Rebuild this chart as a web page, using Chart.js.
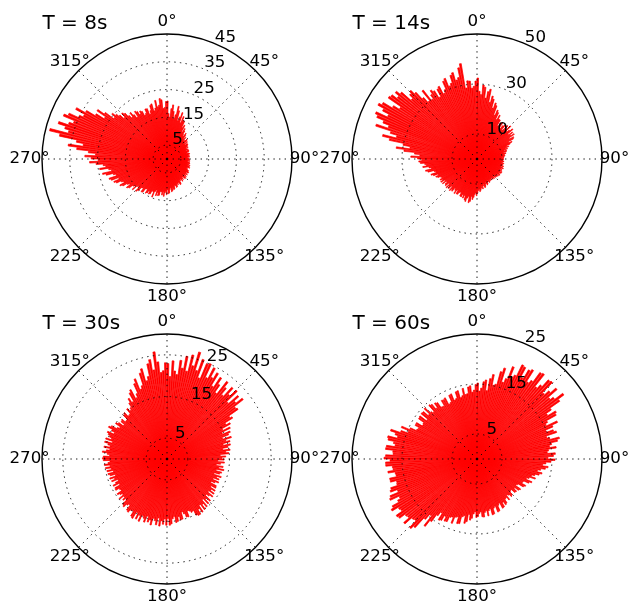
<!DOCTYPE html>
<html>
<head>
<meta charset="utf-8">
<title>Polar spokes</title>
<script src="https://cdn.jsdelivr.net/npm/chart.js@4.4.1/dist/chart.umd.min.js"></script>
<style>
  html, body { margin: 0; padding: 0; background: #fff; }
  #wrap { position: relative; width: 630px; height: 601px; }
  #wrap canvas { position: absolute; left: 0; top: 0; }
</style>
</head>
<body>
<div id="wrap">
  <canvas id="p0" width="630" height="601"></canvas>
  <canvas id="p1" width="630" height="601"></canvas>
  <canvas id="p2" width="630" height="601"></canvas>
  <canvas id="p3" width="630" height="601"></canvas>
</div>
<script>
// spoke lengths, one value every 1.5 degrees, clockwise from north
const lengthsT8 = [
  20.9,16.4,15.1,18.2,19.6,17.3,14.8,16.2,19.4,17.9,14.3,15.8,17.6,13.9,16.4,15.1,14.9,12.6,13.7,11.2,
  12.7,11.9,10.6,10.1,11.5,10.8,9.4,10.3,8.9,9.3,10.2,9.8,8.4,9.6,8.2,9.1,9.2,8.7,8.8,7.9,
  8.7,7.6,8.1,8.4,7.3,8.5,7.9,8.3,7.5,7.2,8.2,8.4,7.8,7.4,8.1,7.7,8.2,7.1,7.6,7.9,
  8.1,7.9,7.4,8.3,7.2,7.7,8.2,8.4,7.5,8.0,8.6,7.6,8.5,8.2,8.8,7.7,8.1,7.8,8.3,8.9,
  8.6,9.2,9.1,8.3,8.7,9.3,8.4,8.9,9.4,8.2,9.5,9.6,8.8,8.5,9.4,9.0,9.8,8.6,9.2,8.8,
  10.2,10.4,9.3,9.6,10.1,9.5,10.6,10.8,10.0,9.9,11.1,11.3,10.5,11.6,11.9,10.4,11.0,12.3,12.5,11.1,
  12.9,11.6,12.2,13.5,11.8,13.1,12.0,11.9,13.4,13.6,12.5,13.8,11.8,12.4,14.7,12.8,12.6,13.9,14.2,13.1,
  14.1,14.5,12.9,13.2,14.8,15.0,13.6,13.8,15.4,16.1,14.2,14.5,16.6,15.1,15.6,17.2,17.8,16.2,16.9,18.6,
  19.4,17.6,18.3,20.1,20.8,18.7,21.4,22.0,19.2,20.1,22.6,23.8,20.4,21.3,24.5,22.2,23.1,25.6,27.9,24.8,
  27.3,29.6,25.8,28.4,32.7,35.9,30.6,33.2,39.6,43.5,36.8,38.4,41.2,37.6,36.1,40.4,38.9,35.2,33.8,37.4,
  33.8,30.2,26.9,30.6,27.8,24.1,25.6,24.3,23.2,21.4,23.1,22.4,20.8,19.6,21.3,19.9,18.4,20.7,20.2,18.8,
  19.8,19.4,17.6,18.1,19.6,19.5,17.2,18.4,20.2,20.6,17.9,18.8,21.5,19.1,19.6,21.9,21.4,18.2,18.6,20.7
];
const lengthsT14 = [
  32.4,27.1,25.8,29.7,28.9,24.6,27.3,28.4,23.2,25.9,24.8,21.3,23.6,22.7,18.9,21.2,20.4,17.6,19.7,18.2,
  18.1,15.6,17.4,17.8,15.2,16.9,17.6,15.4,18.1,16.7,18.8,16.2,17.3,18.6,15.9,17.8,16.4,17.9,15.3,17.1,
  16.7,14.3,15.6,14.6,12.8,13.7,12.1,12.9,11.3,12.3,12.1,10.6,11.8,11.2,10.4,11.3,10.9,9.8,10.8,10.5,
  10.7,9.6,10.4,10.8,9.7,10.3,10.9,9.9,10.6,10.1,11.0,9.8,10.7,11.2,10.2,10.8,9.9,11.1,10.4,11.3,
  11.1,10.2,10.8,11.2,10.0,10.9,10.3,10.7,9.6,10.5,10.2,9.5,10.4,9.8,10.3,9.3,10.1,9.7,10.2,9.6,
  10.4,10.6,9.5,10.1,10.9,11.2,9.8,10.6,11.5,11.9,10.4,11.1,12.2,11.0,11.8,12.6,13.1,12.0,12.6,13.7,
  14.7,13.6,14.2,15.4,16.3,15.1,17.2,17.8,15.3,16.1,17.6,17.1,15.4,16.6,15.3,16.4,16.3,14.8,15.1,16.1,
  16.2,14.7,16.5,15.3,14.6,16.3,15.8,16.7,14.9,16.4,15.6,16.8,14.8,16.5,16.2,15.1,16.9,15.4,17.1,16.0,
  16.9,15.8,16.2,17.3,17.9,16.7,18.6,19.4,17.2,17.8,20.3,21.1,18.6,19.5,21.9,20.4,21.0,22.7,23.3,22.1,
  23.8,26.5,22.9,25.1,29.4,32.6,27.2,30.1,35.9,38.9,33.4,36.2,42.6,37.7,40.3,43.4,44.5,39.6,42.4,45.1,
  43.8,39.6,36.9,43.1,42.6,40.2,42.1,40.3,35.4,37.2,38.1,36.2,32.6,30.1,35.0,29.8,31.6,33.1,32.2,28.9,
  32.1,32.8,29.4,30.6,33.9,34.7,31.2,32.0,35.1,35.9,32.6,33.4,37.2,38.7,28.7,31.5,31.3,28.4,29.1,31.2
];
const lengthsT30 = [
  22.9,19.8,23.6,21.2,20.4,23.9,22.1,25.1,21.6,25.7,23.2,26.8,22.4,25.4,20.9,24.8,25.1,21.7,24.6,22.3,
  23.9,20.6,23.4,21.8,19.7,23.5,22.1,20.3,23.2,21.4,23.4,19.9,22.8,21.3,23.2,20.5,20.8,18.1,18.6,16.4,
  17.4,15.1,16.9,14.6,16.5,15.9,14.2,16.3,14.8,15.7,13.9,15.6,14.9,13.6,15.3,14.2,14.9,12.8,14.1,13.2,
  13.7,12.2,13.8,12.9,11.9,13.6,12.6,13.9,12.1,13.5,13.1,11.8,13.7,12.7,13.4,12.0,13.6,12.8,11.9,13.5,
  13.6,12.4,13.8,12.9,14.0,12.6,14.2,13.4,12.7,14.4,13.3,14.6,12.9,14.9,13.8,15.1,13.5,15.3,14.2,15.5,
  15.5,15.2,13.9,14.1,13.6,13.4,14.8,14.7,13.8,13.2,14.9,15.0,14.1,15.2,15.4,13.9,14.4,15.6,15.9,14.3,
  15.9,14.4,15.7,14.9,16.2,14.3,16.0,15.1,14.6,16.3,15.2,15.8,14.5,16.1,15.3,14.8,16.4,15.0,16.2,14.7,
  16.5,16.2,14.9,15.1,15.8,15.6,14.2,14.6,15.5,15.2,13.8,14.4,13.7,14.9,13.6,14.1,14.6,13.3,13.5,14.4,
  14.3,12.9,14.4,13.6,12.8,14.3,13.4,14.5,13.0,14.2,14.6,13.2,14.7,13.6,14.9,13.8,15.1,14.2,13.7,15.3,
  15.5,15.3,13.8,14.4,15.6,14.7,13.9,15.4,14.0,14.6,15.5,13.7,15.5,14.2,14.8,15.3,15.7,14.1,14.9,16.0,
  15.5,14.1,13.6,15.0,14.5,13.2,14.2,14.4,13.4,13.5,14.8,15.1,13.9,14.0,15.4,14.6,15.1,16.2,17.2,16.0,
  18.2,18.8,16.4,17.3,19.7,20.7,17.9,18.6,21.6,22.5,19.4,20.3,23.3,24.2,21.6,25.9,23.4,20.8,21.2,23.1
];
const lengthsT60 = [
  15.2,13.6,14.2,15.5,15.9,13.8,16.3,17.2,15.1,15.4,18.1,19.0,16.2,17.1,19.8,17.9,18.4,20.9,20.7,18.6,
  20.6,21.0,18.4,19.1,21.4,21.6,18.6,19.5,21.3,21.5,18.7,19.8,21.2,18.9,19.6,21.6,20.2,17.8,16.6,18.4,
  18.1,15.9,15.4,17.7,16.5,14.9,16.3,16.8,14.6,15.1,17.0,16.5,15.2,14.7,16.0,14.4,14.1,15.7,15.3,14.2,
  15.6,14.8,13.8,13.2,14.3,13.8,12.9,12.3,13.3,12.8,12.0,11.4,12.3,11.1,10.6,11.9,11.4,10.3,10.2,11.1,
  10.8,9.6,9.4,10.6,10.4,9.5,10.2,10.1,9.2,9.3,10.0,10.2,9.6,9.4,10.4,9.7,9.8,10.6,10.8,10.1,
  11.0,11.1,9.9,10.2,11.3,11.4,10.1,10.4,11.5,11.6,10.3,10.6,11.6,10.5,10.8,11.7,11.6,10.6,10.9,11.5,
  11.7,10.6,11.0,11.9,12.3,11.2,12.7,13.1,11.6,11.9,13.4,13.5,12.2,12.4,13.8,12.6,12.8,13.9,14.0,13.1,
  14.2,14.4,12.9,13.8,15.5,17.0,14.6,15.9,18.5,19.2,17.4,17.6,19.4,18.0,18.2,19.5,19.7,18.3,18.5,19.9,
  19.4,17.9,17.3,19.2,18.9,17.1,18.5,18.2,16.8,16.7,17.9,17.9,16.5,16.6,18.0,16.9,17.0,18.3,18.3,17.4,
  18.6,18.3,16.8,16.9,18.4,18.3,16.6,17.0,18.2,18.4,16.5,17.1,18.2,16.2,14.8,16.4,14.7,13.4,13.2,14.1,
  14.1,12.8,12.9,14.2,14.3,12.7,14.4,14.3,13.1,14.6,13.2,12.8,14.4,14.2,13.0,14.0,13.8,12.6,12.5,13.7,
  13.6,13.8,12.3,12.5,13.9,14.0,12.6,12.8,14.1,14.2,12.7,13.0,14.4,13.1,13.2,14.5,14.7,13.4,13.8,14.9
];

const panelTitles = ['T = 8s', 'T = 14s', 'T = 30s', 'T = 60s'];
const panelSeries = [lengthsT8, lengthsT14, lengthsT30, lengthsT60];
const radialMax = [45, 50, 30, 25];
const ringLabels = [[5, 15, 25, 35, 45], [10, 30, 50], [5, 15, 25], [5, 15, 25]];
const angleLabels = ['0°', '45°', '90°', '135°', '180°', '225°', '270°', '315°'];

// each 1.5 deg slot holds a thin spoke followed by a narrow empty gap
const SPOKE_DEG = 1.1;
const GAP_DEG = 0.4;
const SLOT = (SPOKE_DEG + GAP_DEG) / 2;     // angular size of one scale label
const spokeAngles = lengthsT8.map((_, i) => i * (SPOKE_DEG + GAP_DEG));
const slotLabels = spokeAngles.flatMap(a => [a + '°', '']);
const slotsPer45 = 45 / SLOT;
const rLabelSlot = 22.5 / SLOT;

const centers = [[167, 159], [477, 159], [167, 459], [477, 459]];
const RADIUS = 125;
const W = 630, H = 601;
const FONT = '"DejaVu Sans", sans-serif';

const decor = {
  id: 'decor',
  afterDraw(chart, args, opts) {
    const r = chart.scales.r;
    const ctx = chart.ctx;
    ctx.save();
    ctx.fillStyle = '#000';
    ctx.font = '16.7px ' + FONT;
    ctx.textAlign = 'center';
    ctx.textBaseline = 'middle';
    angleLabels.forEach((txt, k) => {
      const p = r.getPointPosition(k * slotsPer45, r.drawingArea * 1.1);
      ctx.fillText(txt, p.x, p.y);
    });
    ctx.textAlign = 'left';
    ctx.textBaseline = 'alphabetic';
    opts.rings.forEach(v => {
      const p = r.getPointPosition(rLabelSlot, r.getDistanceFromCenterForValue(v));
      ctx.fillText(String(v), p.x, p.y - 1.9);
    });
    ctx.font = '20px ' + FONT;
    ctx.fillText(opts.title, chart.chartArea.left + 0.5, chart.chartArea.top - 4.7);
    ctx.restore();
  }
};

panelSeries.forEach((values, n) => {
  const [cx, cy] = centers[n];
  const max = radialMax[n];
  const rings = ringLabels[n].includes(max) ? ringLabels[n] : ringLabels[n].concat([max]);
  const isSpoke = c => c.index % 2 === 0;

  new Chart(document.getElementById('p' + n), {
    type: 'polarArea',
    data: {
      labels: slotLabels,
      datasets: [{
        data: values.flatMap(v => [v, 0]),
        angle: c => (isSpoke(c) ? SPOKE_DEG : GAP_DEG),
        backgroundColor: c => (isSpoke(c) ? '#ff0000' : 'rgba(0,0,0,0)'),
        borderColor: '#ff0000',
        borderWidth: c => (isSpoke(c) ? 0.7 : 0)
      }]
    },
    plugins: [decor],
    options: {
      responsive: false,
      animation: false,
      events: [],
      layout: {
        padding: { left: cx - RADIUS, right: W - cx - RADIUS, top: cy - RADIUS, bottom: H - cy - RADIUS }
      },
      plugins: {
        legend: { display: false },
        tooltip: { enabled: false },
        decor: { title: panelTitles[n], rings: ringLabels[n] }
      },
      scales: {
        r: {
          min: 0,
          max: max,
          startAngle: 0,
          afterBuildTicks: scale => {
            scale.ticks = [0].concat(rings).map(v => ({ value: v }));
          },
          ticks: { display: false },
          pointLabels: { display: false },
          grid: {
            z: 1,
            circular: true,
            color: '#000',
            lineWidth: c => (c.tick && c.tick.value === max ? 1.4 : 0.9)
          },
          border: {
            dash: c => (c.tick && c.tick.value === max ? [] : [1.4, 4.2])
          },
          angleLines: {
            display: true,
            color: '#000',
            lineWidth: c => (c.index % slotsPer45 === 0 ? 0.9 : 0),
            borderDash: [1.4, 4.2]
          }
        }
      }
    }
  });
});
</script>
</body>
</html>
